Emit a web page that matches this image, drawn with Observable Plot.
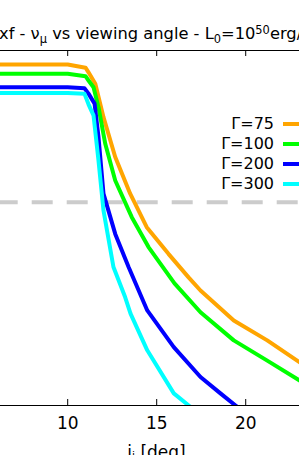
<!DOCTYPE html>
<html>
<head>
<meta charset="utf-8">
<script src="https://cdn.jsdelivr.net/npm/d3@7"></script>
<script src="https://cdn.jsdelivr.net/npm/@observablehq/plot@0.6"></script>
<style>
  html, body { margin: 0; padding: 0; background: #fff; }
  #wrap { position: relative; width: 299px; height: 455px; overflow: hidden; background: #fff; font-family: "DejaVu Sans", sans-serif; color: #000; }
  #title { position: absolute; left: -1px; top: 26.3px; font-size: 16.3px; line-height: 16.3px; white-space: nowrap; }
  #title .sub { position: relative; top: 0.3em; font-size: 70%; line-height: 0; }
  #title .sup { position: relative; top: -0.45em; font-size: 70%; line-height: 0; }
  #chart { position: absolute; left: 0; top: 45px; }
  #legend { position: absolute; left: 0; top: 0; width: 299px; }
  .row { position: absolute; left: 0; width: 299px; height: 20px; }
  .row .lab { position: absolute; right: 25px; top: 0; font-size: 16px; line-height: 20px; white-space: nowrap; }
  .row .sw { position: absolute; left: 283px; top: 8px; width: 40px; height: 4px; }
</style>
</head>
<body>
<div id="wrap">
  <div id="title">xf - ν<span class="sub">μ</span> vs viewing angle - L<span class="sub">0</span>=10<span class="sup">50</span>erg/s</div>
  <div id="chart"></div>
  <div id="legend"></div>
</div>
<script>
// Series labels and colours
const seriesNames = ["Γ=75", "Γ=100", "Γ=200", "Γ=300"];
const seriesColors = ["#ffa500", "#00ff00", "#0000ff", "#00ffff"];

// Viewing angle [deg] and flux level (arbitrary log units, y axis not shown)
const angle75  = [6, 10, 11.0, 11.17, 11.55, 12.01, 12.67, 13.51, 14.44, 15.66, 16.79, 17.46, 19.33, 21.21, 23.1];
const flux75   = [9.58, 9.58, 9.49, 9.36, 9.04, 8.10, 6.98, 5.95, 5.01, 4.26, 3.60, 3.23, 2.39, 1.83, 1.19];
const angle100 = [6, 10, 11.0, 11.17, 11.45, 11.73, 12.11, 12.67, 13.60, 14.54, 16.0, 17.46, 19.33, 21.21, 23.1];
const flux100  = [9.32, 9.32, 9.25, 9.13, 8.94, 8.38, 7.35, 6.32, 5.29, 4.45, 3.43, 2.62, 1.83, 1.26, 0.68];
const angle200 = [6, 10, 10.94, 11.17, 11.51, 11.73, 12.01, 12.67, 13.42, 14.47, 15.96, 17.46, 18.58, 19.43, 19.71];
const flux200  = [8.94, 8.94, 8.91, 8.76, 8.48, 7.54, 5.95, 4.82, 3.89, 2.67, 1.64, 0.80, 0.34, 0.00, -0.11];
const angle300 = [6, 10, 10.94, 11.17, 11.45, 11.73, 12.01, 12.57, 13.23, 13.53, 14.47, 15.96, 16.80, 17.01];
const flux300  = [8.78, 8.78, 8.76, 8.46, 8.15, 6.88, 5.48, 3.89, 3.04, 2.58, 1.55, 0.34, 0.00, -0.08];

// Reference (dashed) level
const thresholdLevel = [5.71];

// Axis settings
const xDomain = [6.225, 23.022];
const yDomain = [0, 9.972];
const xTicks = [10, 15, 20];
const xLabel = "iᵢ [deg]";

const angles = [angle75, angle100, angle200, angle300];
const fluxes = [flux75, flux100, flux200, flux300];
const table = [];
seriesNames.forEach((name, s) => {
  angles[s].forEach((a, k) => table.push({series: name, angle: a, flux: fluxes[s][k]}));
});

const W = 299, H = 420, mTop = 5, mBottom = 60;
const frameH = H - mTop - mBottom;

const marks = [
  Plot.ruleY(thresholdLevel, {stroke: "#cccccc", strokeWidth: 4, strokeDasharray: "21,14", strokeDashoffset: 3.3})
];
seriesNames.forEach((name, s) => {
  marks.push(Plot.line(table.filter(d => d.series === name), {
    x: "angle", y: "flux", stroke: seriesColors[s], strokeWidth: 4, clip: true,
    strokeLinejoin: "round", strokeLinecap: "butt"
  }));
});
marks.push(
  Plot.ruleY(yDomain, {stroke: "#000", strokeWidth: 1}),
  Plot.ruleX(xTicks, {stroke: "#000", strokeWidth: 1, insetTop: frameH - 6}),
  Plot.ruleX(xTicks, {stroke: "#000", strokeWidth: 1, insetBottom: frameH - 6}),
  Plot.axisX({ticks: xTicks, tickSize: 0, tickPadding: 11, fontSize: 17, label: null, tickFormat: d => String(d)}),
  Plot.text([xLabel], {text: d => d, frameAnchor: "bottom", lineAnchor: "bottom", dy: 52, dx: 6.5, fontSize: 17})
);

const chart = Plot.plot({
  width: W, height: H,
  marginTop: mTop, marginBottom: mBottom, marginLeft: 0, marginRight: 0,
  style: {fontFamily: "DejaVu Sans", fontSize: "17px", background: "transparent", color: "#000", overflow: "visible"},
  x: {domain: xDomain, label: null},
  y: {domain: yDomain, axis: null, label: null},
  marks
});
document.getElementById("chart").appendChild(chart);

// Legend
const legend = document.getElementById("legend");
seriesNames.forEach((name, s) => {
  const row = document.createElement("div");
  row.className = "row";
  row.style.top = (114 + s * 20) + "px";
  const lab = document.createElement("span");
  lab.className = "lab";
  lab.textContent = name;
  const sw = document.createElement("div");
  sw.className = "sw";
  sw.style.background = seriesColors[s];
  row.appendChild(lab);
  row.appendChild(sw);
  legend.appendChild(row);
});
</script>
</body>
</html>
